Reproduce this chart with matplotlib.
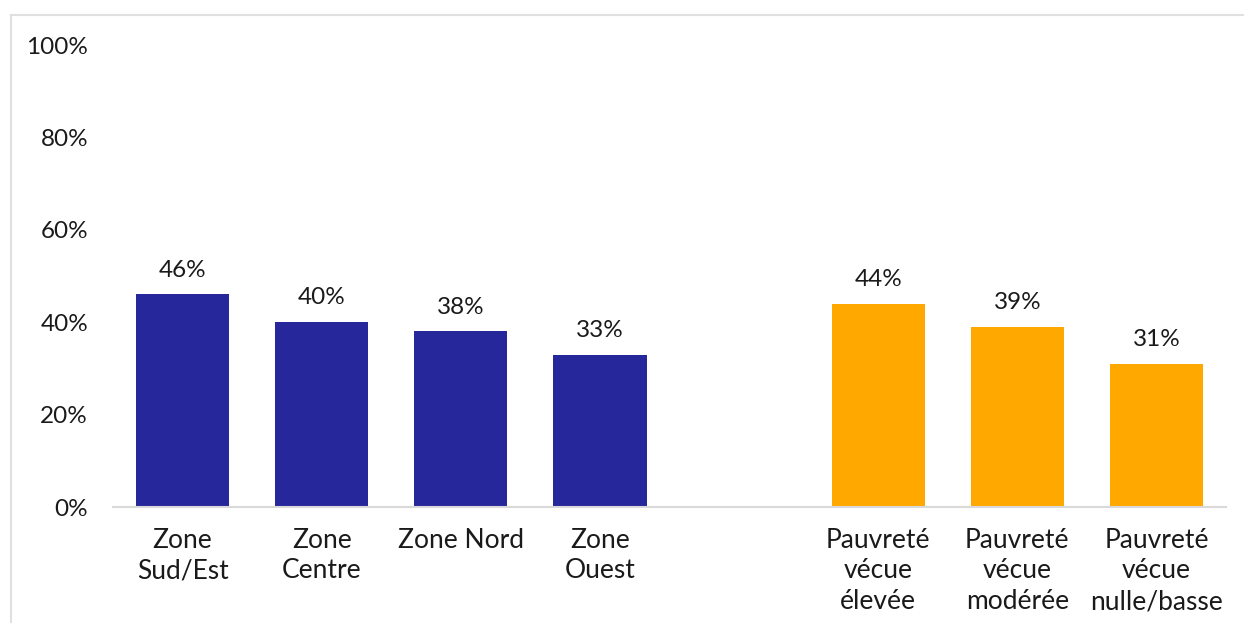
import numpy as np
from matplotlib import pyplot as plt
from matplotlib.lines import Line2D

zone_labels = ['Zone\nSud/Est', 'Zone\nCentre', 'Zone Nord', 'Zone\nOuest']
zone_values = [46, 40, 38, 33]
pauv_labels = ['Pauvreté\nvécue\nélevée', 'Pauvreté\nvécue\nmodérée', 'Pauvreté\nvécue\nnulle/basse']
pauv_values = [44, 39, 31]
y_ticks = [0, 20, 40, 60, 80, 100]

plt.rcParams['font.family'] = ['Lato', 'DejaVu Sans']

fig = plt.figure(figsize=(12.44, 6.23), dpi=100)
ax = fig.add_axes([113 / 1244, 1 - 507 / 623, (1226 - 113) / 1244, (507 - 45) / 623])

x_zone = np.arange(len(zone_values))
x_pauv = np.arange(len(pauv_values)) + len(zone_values) + 1
width = 0.67
bars1 = ax.bar(x_zone, zone_values, width, color='#26279A')
bars2 = ax.bar(x_pauv, pauv_values, width, color='#FFA800')

for bars, vals in ((bars1, zone_values), (bars2, pauv_values)):
    for b, v in zip(bars, vals):
        ax.text(b.get_x() + b.get_width() / 2, v + 3.0, f'{v}%', ha='center',
                va='bottom', fontsize=17.5, color='#1a1a1a')

ax.set_xlim(-0.5, x_pauv[-1] + 0.5)
ax.set_ylim(0, 100)
ax.set_yticks(y_ticks)
ax.set_yticklabels([f'{t}%' for t in y_ticks], fontsize=17.5, color='#1a1a1a')
ax.set_xticks(list(x_zone) + list(x_pauv))
ax.set_xticklabels(zone_labels + pauv_labels, fontsize=19, color='#1a1a1a',
                   va='top', linespacing=1.28)
ax.tick_params(axis='both', length=0)
ax.tick_params(axis='x', pad=15)
ax.tick_params(axis='y', pad=18)
for s in ['top', 'right', 'left']:
    ax.spines[s].set_visible(False)
ax.spines['bottom'].set_color('#d9d9d9')
ax.spines['bottom'].set_linewidth(1.5)

# light frame around the chart area
fx, fy = 11 / 1244, 1 - 15 / 623
fig.add_artist(Line2D([fx, 1], [fy, fy], color='#e0e0e0', lw=1.5, transform=fig.transFigure))
fig.add_artist(Line2D([fx, fx], [0, fy], color='#e0e0e0', lw=1.5, transform=fig.transFigure))

fig.savefig('out.png', dpi=100)
